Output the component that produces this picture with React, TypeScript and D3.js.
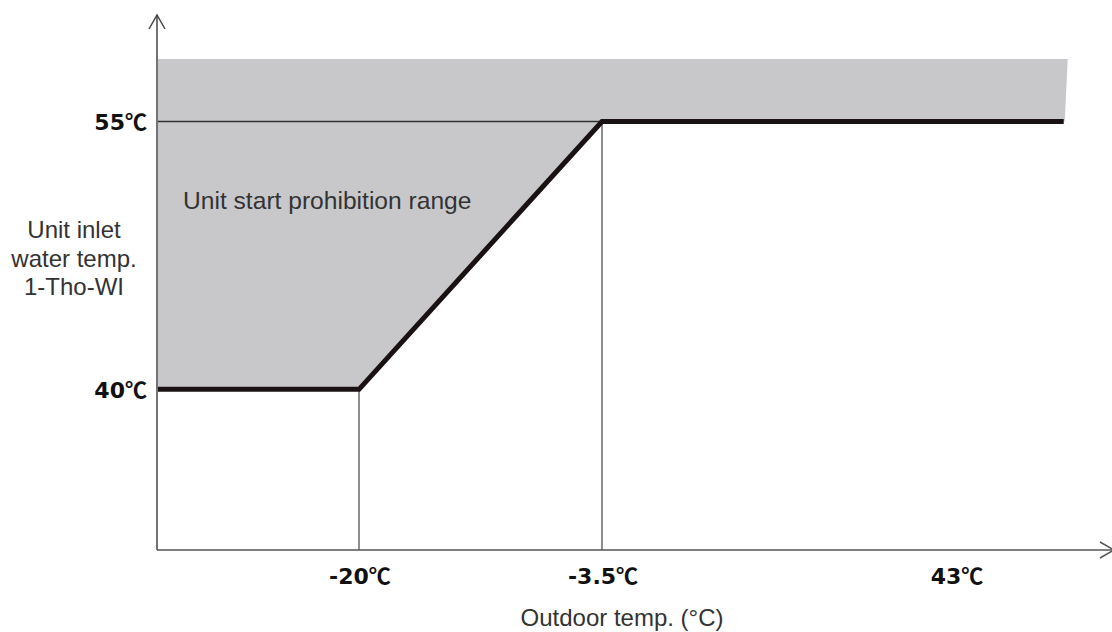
import React from "react";
import * as d3 from "d3";

// Data
const xBreaks = [-40, -20, -3.5, 43, 50]; // outdoor temp breakpoints (non-linear axis)
const xTickValues = [-20, -3.5, 43];
const xTickLabels = ["-20℃", "-3.5℃", "43℃"];
const yTickValues = [55, 40];
const yTickLabels = ["55℃", "40℃"];
const limitX = [-40, -20, -3.5, 49.5];
const limitY = [40, 40, 55, 55];
const regionTop = 58.5;
const yMin = 31;

const W = 1112;
const H = 632;
const numFont = "'DejaVu Sans', Verdana, sans-serif";
const unitFont = "'Noto Sans CJK JP', sans-serif";
const textFont = "'Liberation Sans', Arial, sans-serif";

function TempLabel({ label }: { label: string }) {
  const num = label.replace("℃", "");
  return (
    <>
      <tspan fontFamily={numFont}>{num}</tspan>
      <tspan fontFamily={unitFont}>℃</tspan>
    </>
  );
}

export default function App() {
  const x = d3.scaleLinear().domain(xBreaks).range([158, 359, 602, 956, 1072]);
  const y = d3.scaleLinear().domain([yMin, regionTop]).range([550, 59]);

  const limitPts: [number, number][] = limitX.map((v, i) => [x(v), y(limitY[i])]);
  const line = d3.line();
  const areaPts: [number, number][] = [
    [x(-40), y(regionTop)],
    [x(49.5) + 4, y(regionTop)],
    [x(49.5) + 1, y(55)],
    ...limitPts.slice().reverse(),
  ];

  return (
    <svg width={W} height={H} style={{ position: "absolute", left: 0, top: 0 }}>
      <rect width={W} height={H} fill="#fff" />
      {/* prohibition region */}
      <path d={line(areaPts) + "Z"} fill="#c8c8cb" />
      {/* 55 line through shaded part */}
      <line x1={x(-40)} x2={x(-3.5)} y1={y(55)} y2={y(55)} stroke="#333" strokeWidth={1.4} />
      {/* vertical guides */}
      {[-20, -3.5].map((v) => (
        <line key={v} x1={x(v)} x2={x(v)} y1={y(v === -20 ? 40 : 55)} y2={y(yMin)} stroke="#444" strokeWidth={1.2} />
      ))}
      {/* axes */}
      <line x1={157} x2={157} y1={y(yMin)} y2={16} stroke="#444" strokeWidth={1.5} />
      <path d="M149,29 L157,15 L165,29" fill="none" stroke="#444" strokeWidth={1.5} />
      <line x1={157} x2={1112} y1={y(yMin)} y2={y(yMin)} stroke="#555" strokeWidth={1.5} />
      <path d="M1100,542 L1114,550 L1100,558" fill="none" stroke="#555" strokeWidth={1.5} />
      {/* limit line */}
      <path d={line(limitPts) || ""} fill="none" stroke="#1a1212" strokeWidth={5} strokeLinejoin="miter" />
      {/* y tick labels */}
      {yTickValues.map((v, i) => (
        <text key={v} x={147} y={y(v) + 9} textAnchor="end" fontWeight="bold" fontSize={22} fill="#111">
          <TempLabel label={yTickLabels[i]} />
        </text>
      ))}
      {/* x tick labels */}
      {xTickValues.map((v, i) => (
        <text key={v} x={x(v) + 1} y={584} textAnchor="middle" fontWeight="bold" fontSize={22} fill="#111">
          <TempLabel label={xTickLabels[i]} />
        </text>
      ))}
      {/* y title */}
      <text textAnchor="middle" fontFamily={textFont} fontSize={24} fill="#333">
        <tspan x={74} y={238}>Unit inlet</tspan>
        <tspan x={74} y={266.5}>water temp.</tspan>
        <tspan x={74} y={295}>1-Tho-WI</tspan>
      </text>
      <text x={183} y={209} fontFamily={textFont} fontSize={24.6} fill="#333">
        Unit start prohibition range
      </text>
      <text x={622} y={626} textAnchor="middle" fontFamily={textFont} fontSize={24} fill="#333">
        Outdoor temp. (°C)
      </text>
    </svg>
  );
}
